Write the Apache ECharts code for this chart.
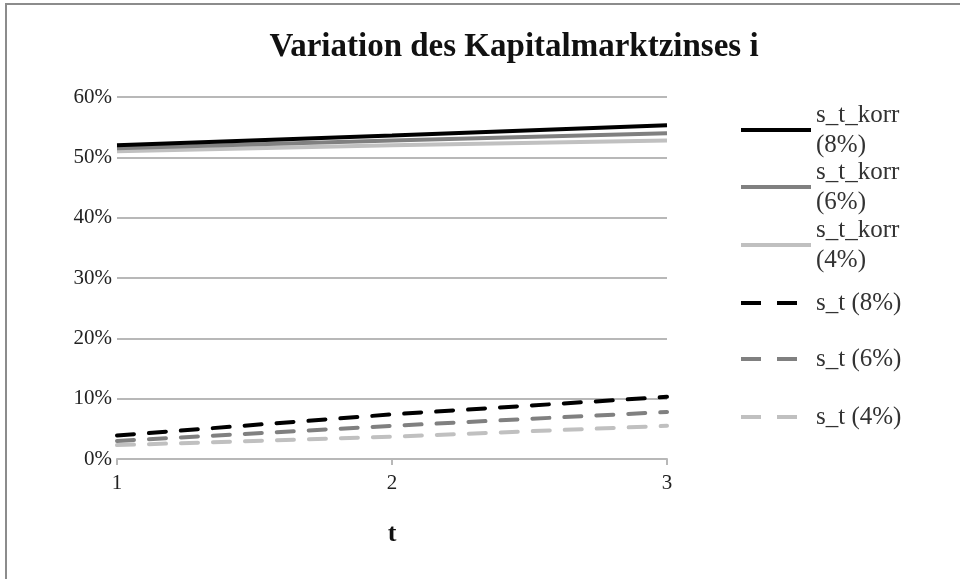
<!DOCTYPE html>
<html>
<head>
<meta charset="utf-8">
<script src="https://cdn.jsdelivr.net/npm/echarts@6/dist/echarts.min.js"></script>
<style>
html,body{margin:0;padding:0;background:#fff;}
#frame{position:absolute;left:5px;top:3px;width:1000px;height:640px;border:2px solid #8c8c8c;box-sizing:border-box;}
#chart{position:absolute;left:0;top:0;width:960px;height:579px;}
</style>
</head>
<body>
<div id="frame"></div>
<div id="chart"></div>
<script>
const tValues = [1, 2, 3];
const seriesNames = ['s_t_korr (8%)', 's_t_korr (6%)', 's_t_korr (4%)', 's_t (8%)', 's_t (6%)', 's_t (4%)'];
const korr8 = [0.520, 0.536, 0.553];
const korr6 = [0.515, 0.528, 0.540];
const korr4 = [0.510, 0.520, 0.528];
const st8 = [0.039, 0.074, 0.103];
const st6 = [0.030, 0.055, 0.078];
const st4 = [0.023, 0.037, 0.055];
const yTicks = [0, 0.1, 0.2, 0.3, 0.4, 0.5, 0.6];

const dataSets = [korr8, korr6, korr4, st8, st6, st4];
const colors = ['#000000', '#808080', '#c0c0c0', '#000000', '#808080', '#c0c0c0'];
const dashed = [false, false, false, true, true, true];
const font = '"Liberation Serif", "Times New Roman", serif';

const chart = echarts.init(document.getElementById('chart'), null, {renderer: 'canvas'});

const series = dataSets.map((d, i) => ({
  name: seriesNames[i],
  type: 'line',
  data: d.map((v, k) => [tValues[k], v]),
  symbol: 'none',
  smooth: false,
  z: 10 - i,
  lineStyle: {color: colors[i], width: 4, type: dashed[i] ? [17, 15] : 'solid', cap: dashed[i] ? 'round' : 'butt'},
  itemStyle: {color: colors[i]}
}));

const solidIcon = 'path://M0,0 L70,0 L70,4 L0,4 Z';
const dashIcon = 'path://M0,0 L20,0 L20,4 L0,4 Z M36,0 L56,0 L56,4 L36,4 Z';
const legendCenters = [130, 187, 245, 303, 359, 417];
const legends = seriesNames.map((n, i) => {
  const korr = i < 3;
  return {
    data: [{name: n, icon: korr ? solidIcon : dashIcon}],
    left: 741,
    top: korr ? legendCenters[i] - 45 : legendCenters[i] - 15,
    itemWidth: korr ? 70 : 56,
    itemHeight: 4,
    itemGap: 0,
    padding: 0,
    selectedMode: false,
    formatter: function (name) { return korr ? name.replace(' ', '\n') : name; },
    textStyle: {
      fontFamily: font, fontSize: 25, color: '#333', lineHeight: 30,
      padding: korr ? [30, 0, 0, 0] : 0
    }
  };
});
legends.forEach((l, i) => { if (i >= 3) { l.textStyle.padding = [0, 0, 0, 14]; } });

chart.setOption({
  animation: false,
  backgroundColor: 'transparent',
  title: {
    text: 'Variation des Kapitalmarktzinses i',
    left: 509, top: 26, textAlign: 'center',
    textStyle: {fontFamily: font, fontSize: 33, fontWeight: 'bold', color: '#111'}
  },
  legend: legends,
  grid: {left: 117, right: 293, top: 97, bottom: 120, containLabel: false},
  xAxis: {
    type: 'value', min: 1, max: 3, interval: 1,
    name: 't', nameLocation: 'middle', nameGap: 62,
    nameTextStyle: {fontFamily: font, fontSize: 26, fontWeight: 'bold', color: '#111'},
    axisLine: {show: true, lineStyle: {color: '#b8b8b8', width: 2}},
    axisTick: {show: true, length: 6, lineStyle: {color: '#b8b8b8', width: 2}},
    axisLabel: {fontFamily: font, fontSize: 21, color: '#222', margin: 14},
    splitLine: {show: false}
  },
  yAxis: {
    type: 'value', min: 0, max: 0.6, interval: 0.1,
    axisLine: {show: false},
    axisTick: {show: false},
    axisLabel: {fontFamily: font, fontSize: 21, color: '#222', margin: 5,
      formatter: v => Math.round(v * 100) + '%'},
    splitLine: {show: true, lineStyle: {color: '#b8b8b8', width: 2}}
  },
  series: series
});
</script>
</body>
</html>
